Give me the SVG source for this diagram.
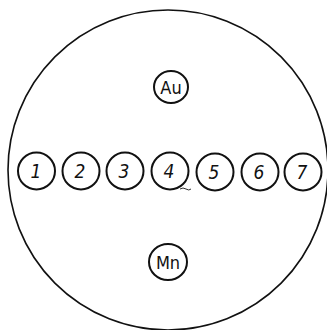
<svg xmlns="http://www.w3.org/2000/svg" width="327" height="330" viewBox="0 0 327 330">
<style>
.c{fill:none;stroke:#111;stroke-width:2}
.big{fill:none;stroke:#111;stroke-width:1.6}
.t{font-family:"DejaVu Sans Condensed","DejaVu Sans",sans-serif;font-style:italic;font-size:19px;fill:#111;text-anchor:middle}
.l{font-family:"DejaVu Sans Condensed","DejaVu Sans",sans-serif;font-size:18px;fill:#111;text-anchor:middle}
</style>
<rect width="327" height="330" fill="#fff"/>
<g id="outer"><circle class="big" cx="168" cy="170" r="160"/></g>
<g id="au"><ellipse class="c" cx="171" cy="87" rx="17" ry="16"/><text class="l" x="171" y="94">Au</text></g>
<g id="mn"><ellipse class="c" cx="168" cy="262" rx="19" ry="18"/><text class="l" x="168" y="269">Mn</text></g>
<g id="n1"><circle class="c" cx="36.5" cy="171" r="18.5"/><text class="t" x="36" y="178">1</text></g>
<g id="n2"><circle class="c" cx="81" cy="171" r="18.5"/><text class="t" x="80" y="178">2</text></g>
<g id="n3"><circle class="c" cx="125" cy="171" r="18.5"/><text class="t" x="124" y="178">3</text></g>
<g id="n4"><circle class="c" cx="170" cy="171" r="18.5"/><text class="t" x="169" y="178">4</text></g>
<g id="n5"><circle class="c" cx="215" cy="172" r="18.5"/><text class="t" x="214" y="179">5</text></g>
<g id="n6"><circle class="c" cx="260" cy="172" r="18.5"/><text class="t" x="259" y="179">6</text></g>
<g id="n7"><circle class="c" cx="303" cy="172" r="18.5"/><text class="t" x="302" y="179">7</text></g>
<g id="connectors"><path d="M180 189 q3 -2 6 0 t5 0" fill="none" stroke="#333" stroke-width="1"/></g>
</svg>
